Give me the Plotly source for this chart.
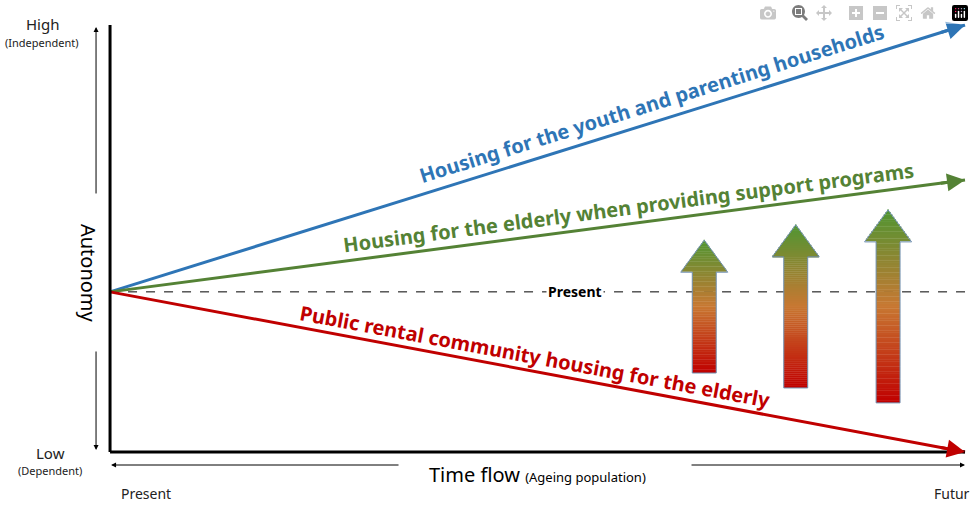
import plotly.graph_objects as go

# ---- data ----
time = [0, 100]
youth = [37.5, 100]
elderly_support = [37.5, 63.7]
elderly_rental = [37.5, 0]
present_level = 37.5
arrow_x = [69.5, 80.2, 91.0]          # centre of gradient arrows (time units)
arrow_bottom = [18.5, 15.0, 11.5]     # autonomy units
arrow_top = [49.6, 53.2, 56.7]

XR = [-12.87, 101.05]
YR = [-14.52, 105.85]
def X(p): return (p - 110) / 8.55
def Y(p): return (452 - p) / 4.27

BLUE, GREEN, RED = "#2e75b6", "#548235", "#c00000"
fig = go.Figure()
fig.add_trace(go.Scatter(x=[0, 100], y=[present_level]*2, mode="lines",
                         line=dict(color="black", width=1, dash="dash"), hoverinfo="skip"))
for ys, c in [(youth, BLUE), (elderly_support, GREEN), (elderly_rental, RED)]:
    fig.add_trace(go.Scatter(x=time, y=ys, mode="lines", line=dict(color=c, width=3), hoverinfo="skip"))

ann = []
for ys, c in [(youth, BLUE), (elderly_support, GREEN), (elderly_rental, RED)]:
    ann.append(dict(x=time[1], y=ys[1], ax=time[1]-3, ay=ys[1]-(ys[1]-ys[0])*0.03,
                    axref="x", ayref="y", xref="x", yref="y", text="", showarrow=True,
                    arrowhead=2, arrowsize=1.2, arrowwidth=3, arrowcolor=c))

def lab(text, x, y, ang, c, size=20):
    ann.append(dict(x=X(x), y=Y(y), text=text, showarrow=False, textangle=ang,
                    font=dict(family="Noto Sans", size=size, color=c)))
lab("<b>Housing for the youth and parenting households</b>", 652, 104, -17.4, BLUE)
lab("<b>Housing for the elderly when providing support programs</b>", 628, 208, -7.5, GREEN)
lab("<b>Public rental community housing for the elderly</b>", 535, 357, 10.6, RED)
ann.append(dict(x=X(575), y=present_level, text="<b>Present</b>", showarrow=False, bgcolor="white",
                font=dict(family="Noto Sans", size=14, color="black")))

shapes = []
shapes.append(dict(type="line", x0=0, x1=0, y0=0, y1=Y(25), line=dict(color="black", width=3)))
shapes.append(dict(type="line", x0=0, x1=100, y0=0, y1=0, line=dict(color="black", width=3)))
for y0, y1 in [(Y(195), Y(27)), (Y(350), Y(450))]:
    ann.append(dict(x=X(96), y=y1, ax=X(96), ay=y0, axref="x", ayref="y", text="", showarrow=True,
                    arrowhead=2, arrowwidth=1, arrowcolor="black"))
ann.append(dict(x=X(88), y=Y(273), text="Autonomy", textangle=90, showarrow=False,
                font=dict(family="Noto Sans", size=20, color="black")))
for x0, x1 in [(X(400), X(111)), (X(690), X(965))]:
    ann.append(dict(x=x1, y=Y(465), ax=x0, ay=Y(465), axref="x", ayref="y", text="", showarrow=True,
                    arrowhead=2, arrowwidth=1, arrowcolor="black"))
ann.append(dict(x=X(537), y=Y(474), showarrow=False,
                text="Time flow <span style='font-size:13px'>(Ageing population)</span>",
                font=dict(family="Noto Sans", size=20, color="black")))
for t, x, y, s in [("High", 42, 24, 15), ("(Independent)", 42, 43, 11), ("Low", 50, 453, 15),
                   ("(Dependent)", 50, 470, 11), ("Present", 146, 493, 14), ("Futur", 952, 493, 14)]:
    ann.append(dict(x=X(x), y=Y(y), text=t, showarrow=False,
                    font=dict(family="Noto Sans", size=s, color="#222")))

def grad(f):
    stops = [(0, (192, 0, 0)), (0.5, (200, 120, 50)), (1, (80, 150, 50))]
    for (a, ca), (b, cb) in zip(stops, stops[1:]):
        if f <= b:
            t = (f - a) / (b - a)
            return "rgb(%d,%d,%d)" % tuple(int(ca[i] + (cb[i] - ca[i]) * t) for i in range(3))
    return "rgb(80,150,50)"
N = 80
for xc, yb, yt in zip(arrow_x, arrow_bottom, arrow_top):
    hw_head = 2.75; hw_shaft = 1.4
    ybase = yt - 7.5
    for i in range(N):
        y0 = yb + (yt - yb) * i / N; y1 = yb + (yt - yb) * (i + 1) / N
        ym = (y0 + y1) / 2
        hw = hw_shaft if ym < ybase else hw_head * (yt - ym) / (yt - ybase)
        shapes.append(dict(type="rect", x0=xc - hw, x1=xc + hw, y0=y0, y1=y1 + 0.08,
                           fillcolor=grad((ym - yb) / (yt - yb)), line=dict(width=0)))
    path = "M %f,%f L %f,%f L %f,%f L %f,%f L %f,%f L %f,%f L %f,%f Z" % (
        xc - hw_shaft, yb, xc - hw_shaft, ybase, xc - hw_head, ybase, xc, yt,
        xc + hw_head, ybase, xc + hw_shaft, ybase, xc + hw_shaft, yb)
    shapes.append(dict(type="path", path=path, line=dict(color="#6f8fb0", width=1)))

fig.update_layout(width=974, height=514, margin=dict(l=0, r=0, t=0, b=0),
                  paper_bgcolor="white", plot_bgcolor="white", showlegend=False,
                  xaxis=dict(range=XR, visible=False), yaxis=dict(range=YR, visible=False),
                  annotations=ann, shapes=shapes)
fig.write_html("out.html")
with open("out.html", encoding="utf-8") as f:
    html = f.read()
html = html.replace("<body>", "<body style=\"margin:0;overflow:hidden\">", 1)
with open("out.html", "w", encoding="utf-8") as f:
    f.write(html)
